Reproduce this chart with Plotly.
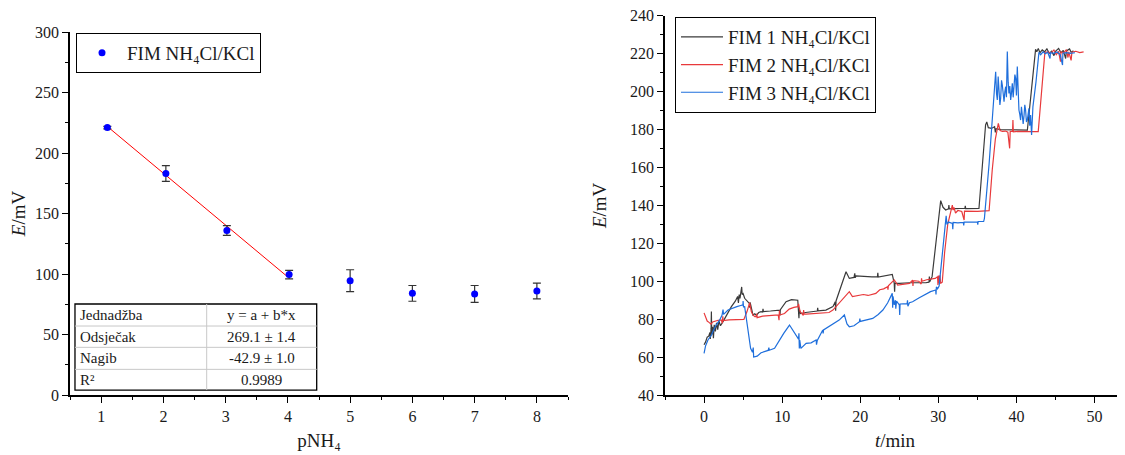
import plotly.graph_objects as go

# ---------------- Left panel data ----------------
pnh4 = [1.1, 2.04, 3.02, 4.02, 5.0, 6.0, 7.0, 8.0]
E_mean = [221.0, 183.0, 136.0, 99.5, 94.5, 84.0, 83.5, 86.0]
E_err = [1.0, 6.5, 4.0, 3.5, 9.0, 6.5, 7.0, 6.5]
fit_intercept = 269.1
fit_slope = -42.9
fit_x = [1.1, 4.0]
fit_y = [fit_intercept + fit_slope * v for v in fit_x]

table_labels = ["Jednadžba", "Odsječak", "Nagib", "R²"]
table_values = ["y = a + b*x", "269.1 ± 1.4", "-42.9 ± 1.0", "0.9989"]

left_xticks = [1, 2, 3, 4, 5, 6, 7, 8]
right_yticks = [40, 60, 80, 100, 120, 140, 160, 180, 200, 220, 240]

# ---------------- Right panel data ----------------
t1 = [0, 0.2, 0.4, 0.6, 0.75, 0.8, 0.9, 0.94, 0.98, 1.1, 1.2, 1.3, 1.45, 1.6, 1.75, 1.9, 2.1, 2.43,
      3.0, 3.5, 4.0, 4.3, 4.4, 4.5, 4.6, 4.77, 4.82, 4.88, 5.0, 5.2, 5.5, 5.8, 5.85, 5.9, 6.26, 6.5,
      6.7, 7.0, 7.3, 7.5, 7.55, 7.6, 8.5, 9.67, 9.72, 9.77, 10.5, 11.2, 12.0, 12.1, 12.15, 12.2,
      12.35, 13.0, 14.0, 14.5, 14.55, 14.6, 15.6, 16.5, 16.8, 16.85, 16.9, 17.5, 18.18, 18.6, 18.9,
      19.2, 19.3, 19.35, 19.46, 20.5, 21.5, 22.2, 22.25, 22.3, 23.0, 24.1, 24.35, 24.4, 24.45, 24.6,
      25.0, 26.3, 27.5, 28.4, 28.8, 28.85, 28.9, 29.2, 29.7, 30.3, 30.6, 30.94, 31.3, 31.35, 31.4,
      32.6, 33.4, 33.45, 33.5, 35.2, 35.6, 36.05, 36.2, 36.4, 36.8, 37.2, 37.3, 37.4, 38.0, 39.0,
      40.0, 41.4, 41.9, 42.45, 42.6, 42.8, 43.0, 43.3, 43.6, 43.9, 44.2, 44.5, 44.8, 45.0, 45.4,
      45.7, 46.0, 46.3, 46.4, 46.8, 47.0, 47.3]
E1 = [66.5, 68, 70.5, 71, 73, 69.5, 75, 84, 72, 76, 70, 77, 73.5, 78, 74.5, 79, 76.5, 78.7,
      83, 86.6, 89.5, 92, 88.5, 93, 91, 94.5, 97, 93, 93.5, 91, 89.5, 88.3, 86, 88.8, 82.2, 82.8,
      82, 83.5, 84, 83.8, 85.5, 84, 84.3, 84.8, 82, 85, 89.2, 90.3, 90, 86, 80.5, 85,
      83, 83.5, 84, 84.3, 86, 84.4, 84.8, 86.6, 89.2, 84.5, 89.6, 97, 105, 101.5, 101.8,
      102, 104.2, 101.8, 102.8, 102.4, 102.3, 102.4, 104.5, 102.2, 102.6, 103.6, 99, 94.5, 99, 98.9,
      98.9, 99.2, 99, 99.2, 99.5, 102.5, 99.8, 102.4, 120, 142.5, 139, 137.6, 138.2, 140.2, 138.2,
      138.2, 138.5, 139.8, 138.3, 138.4, 160, 182.5, 184, 181, 180.6, 181.5, 178.5, 180.5, 180, 179.8,
      179.6, 179.7, 200, 222.3, 221, 222.8, 220.5, 222, 221, 222.6, 220.2, 221.3, 219, 221.2, 222.8,
      220.5, 221.8, 217.5, 221.5, 222.5, 220.8, 221.5]

t2 = [0, 0.2, 0.4, 0.52, 0.7, 0.9, 1.1, 1.4, 1.8, 2.2, 2.35, 2.4, 2.45, 3.2, 4.2, 5.1, 5.5, 5.84,
      6.05, 6.26, 6.5, 6.69, 6.75, 6.8, 7.5, 8.5, 9.5, 9.6, 9.65, 9.7, 10.3, 10.9, 11.5, 12.0, 12.1,
      12.3, 12.5, 12.7, 12.75, 12.8, 13.07, 14.0, 15.0, 16.0, 16.5, 16.9, 17.8, 18.6, 19.0, 19.4,
      20.0, 20.4, 21.0, 22.0, 22.5, 23.0, 23.5, 23.55, 23.6, 24.35, 24.8, 25.5, 26.3, 26.7, 26.75,
      26.8, 27.5, 27.8, 27.85, 27.9, 28.5, 29.2, 29.6, 29.9, 29.95, 30.0, 30.05, 30.1, 30.15, 30.2,
      30.3, 30.5, 30.8, 31.2, 31.6, 31.79, 31.9, 32.0, 32.2, 32.5, 33.0, 33.3, 33.35, 34.0, 34.5,
      35.0, 35.5, 36.5, 36.9, 37.3, 37.68, 37.9, 38.2, 38.6, 38.9, 39.13, 39.2, 39.5, 39.55, 39.6,
      40.2, 41.0, 42.0, 42.79, 43.2, 43.64, 44.0, 44.4, 44.8, 45.1, 45.4, 45.64, 45.7, 46.0, 46.4,
      46.6, 46.7, 47.0, 47.1, 47.6, 48.1, 48.6]
E2 = [83.3, 80.5, 79, 78.7, 78, 77.4, 78.5, 79, 79.4, 79.6, 77.8, 81.5, 79.3, 79.6, 79.7, 79.9, 84, 88.7,
      84, 82.2, 81.3, 81.3, 83, 80.8, 81.6, 81.9, 82.2, 79.5, 84.5, 82.2, 83, 85.3, 86.2, 86.6, 88,
      84, 83, 82, 84.8, 82.7, 82.7, 83, 83.3, 83.5, 84.8, 86.6, 90.5, 94.5, 91.9, 92.2,
      92.3, 93, 92.5, 93.6, 95.5, 96, 97.1, 95.5, 97.6, 100.7, 98, 98.3, 98.9, 100.6, 97.5,
      100.3, 100, 98.5, 101.5, 100, 100.8, 101, 101.5, 102.4, 98, 103, 99, 102.8, 98.5, 103.2,
      98.9, 99.5, 115, 130, 138, 140.2, 137.5, 139, 136, 137.3, 136.8, 132.3, 137, 136.9, 136.6,
      136.8, 137, 137.2, 158.7, 175, 183.3, 179.5, 179, 179.2, 178.6, 170.1, 179, 179, 185, 178.8,
      179, 178.8, 178.9, 178.9, 200, 220.7, 221, 220.3, 222, 219.5, 221.2, 215.8, 221, 220.3, 222.2,
      218, 221, 216.5, 220.8, 221.3, 220.6, 221]

t3 = [0, 0.2, 0.5, 0.94, 1.2, 1.5, 2.0, 2.3, 2.43, 2.5, 3.07, 3.6, 4.2, 4.7, 4.98, 5.0, 5.05, 5.2,
      5.6, 5.96, 6.2, 6.3, 6.35, 6.5, 6.8, 7.3, 7.8, 8.2, 8.3, 8.35, 9.03, 9.6, 10.2, 10.94, 11.5,
      12.1, 12.15, 12.2, 12.25, 12.4, 12.7, 13.07, 13.7, 14.35, 14.4, 14.5, 15.2, 15.25, 15.3, 16.0,
      16.7, 17.3, 17.97, 18.3, 18.6, 19.2, 19.9, 19.95, 20.0, 21.0, 21.6, 22.3, 22.9, 23.5, 24.1,
      24.15, 24.2, 24.35, 24.5, 24.55, 24.65, 25.0, 25.05, 25.1, 25.6, 26.0, 26.05, 26.1, 26.3, 26.7,
      27.5, 28.3, 29.0, 29.66, 29.7, 29.75, 29.9, 30.1, 30.5, 30.94, 31.0, 31.1, 31.3, 31.8, 31.85,
      31.9, 32.5, 33.2, 33.25, 33.3, 34.0, 34.6, 35.0, 35.05, 35.1, 35.8, 35.9, 36.5, 37.1, 37.22,
      37.34, 37.45, 37.55, 37.66, 37.77, 37.88, 37.98, 38.09, 38.19, 38.3, 38.41, 38.52, 38.62, 38.72,
      38.83, 38.94, 39.04, 39.15, 39.26, 39.36, 39.47, 39.58, 39.68, 39.8, 39.9, 40.0, 40.11, 40.22,
      40.32, 40.43, 40.53, 40.64, 40.75, 40.86, 40.96, 41.07, 41.17, 41.28, 41.39, 41.5, 41.6, 41.7,
      41.81, 41.94, 42.11, 42.5, 42.88, 43.1, 43.4, 43.7, 44.0, 44.3, 44.35, 44.8, 45.2, 45.6, 45.9,
      45.95, 46.4, 46.9, 47.5]
E3 = [62, 66, 69, 71.5, 74, 76.5, 79.6, 82, 85, 82.5, 84.8, 85.8, 86.6, 87.2, 87.5, 89.5, 86.5, 86.6,
      75, 64.6, 62.5, 65, 60, 60.2, 60.5, 62.3, 63, 63.5, 65, 63.6, 64.6, 68.5, 72.5, 76.9, 73.5,
      69.5, 72.5, 64.5, 69, 64.6, 66, 67.2, 67.5, 69, 66.5, 68.8, 74.3, 72.5, 74.3, 76,
      77.8, 79.5, 82.2, 77.5, 76, 76.5, 78.7, 80.3, 78.8, 79.8, 80.4, 82.5, 84.8, 88.5, 93.6,
      86, 92, 87.5, 90, 85.5, 89.5, 87.5, 82.2, 88, 88, 88.2, 90, 86.8, 88.7, 89.2,
      91.2, 93.2, 94.5, 95.4, 93, 97, 96, 97.5, 114, 131.4, 134.5, 130, 131.2, 130.5, 127.5,
      131, 130.8, 131, 129.5, 131.2, 131.1, 131.3, 131.3, 129.8, 131.5, 131.5, 133.2, 162, 200.9, 205,
      210.5, 199, 195.6, 208, 202.6, 193, 196.5, 206, 203.5, 198, 194.7, 200, 202.6, 197,
      221.1, 205, 199.1, 203, 195.6, 199, 204.4, 197, 201.7, 209, 207, 198, 213.2, 196,
      190.3, 188, 185, 192, 188.6, 183, 186.8, 193, 190.3, 184, 185, 189, 191.2, 182,
      187.7, 177.1, 192, 205, 220.7, 219.5, 221, 220, 220.8, 217.5, 220.5, 220.2, 220.9, 219.5, 214,
      220.3, 220.6, 220.2, 220.5]

series_names = ["FIM 1 NH₄Cl/KCl", "FIM 2 NH₄Cl/KCl", "FIM 3 NH₄Cl/KCl"]
series_colors = ["#3a3a3a", "#e8393b", "#1f6fdc"]

FONT = "Liberation Serif"
# The page body has an 8px default margin; the figure is sized to end at the window edge.
OFF = 8
W, H = 1117, 447


def px(xp):
    return (xp - OFF) / W


def py(yp):
    return 1 - (yp - OFF) / H


fig = go.Figure()

# Left panel
fig.add_trace(go.Scatter(x=fit_x, y=fit_y, mode="lines", line=dict(color="#ff0000", width=1),
                         showlegend=False, xaxis="x", yaxis="y", hoverinfo="skip"))
fig.add_trace(go.Scatter(x=pnh4, y=E_mean, mode="markers", name="FIM NH₄Cl/KCl",
                         marker=dict(color="#0000ff", size=7),
                         error_y=dict(type="data", array=E_err, color="#333333", thickness=1.2, width=4),
                         xaxis="x", yaxis="y", legend="legend"))

# Right panel
for tt, ee, nm, col in zip([t1, t2, t3], [E1, E2, E3], series_names, series_colors):
    fig.add_trace(go.Scatter(x=tt, y=ee, mode="lines", name=nm, line=dict(color=col, width=1.2),
                             xaxis="x2", yaxis="y2", legend="legend2"))

axis_common = dict(showline=True, linecolor="black", linewidth=1.5, ticks="outside", ticklen=6,
                   tickwidth=1.2, tickcolor="black", showgrid=False, zeroline=False,
                   tickfont=dict(family=FONT, size=16, color="#1a1a1a"), automargin=False,
                   ticklabeloverflow="allow")

# Table shapes (left panel data coordinates)
tx0, tx1, txm = 0.58, 4.463, 2.696
ty_lines = [75.2, 57.0, 39.4, 21.2, 4.1]
shapes = [dict(type="rect", xref="x", yref="y", x0=tx0, x1=tx1, y0=ty_lines[-1], y1=ty_lines[0],
               line=dict(color="black", width=1.3), fillcolor="white", layer="above")]
for yl in ty_lines[1:-1]:
    shapes.append(dict(type="line", xref="x", yref="y", x0=tx0, x1=tx1, y0=yl, y1=yl,
                       line=dict(color="#c8c8c8", width=1), layer="above"))
shapes.append(dict(type="line", xref="x", yref="y", x0=txm, x1=txm, y0=ty_lines[-1], y1=ty_lines[0],
                   line=dict(color="#c8c8c8", width=1), layer="above"))

annotations = []
for i, (lab, val) in enumerate(zip(table_labels, table_values)):
    yc = (ty_lines[i] + ty_lines[i + 1]) / 2
    annotations.append(dict(xref="x", yref="y", x=0.634, y=yc, text=lab, showarrow=False,
                            xanchor="left", yanchor="middle", font=dict(family=FONT, size=15, color="#1a1a1a")))
    annotations.append(dict(xref="x", yref="y", x=(txm + tx1) / 2, y=yc, text=val, showarrow=False,
                            xanchor="center", yanchor="middle", font=dict(family=FONT, size=15, color="#1a1a1a")))

fig.update_layout(
    width=W, height=H, template="none",
    margin=dict(l=0, r=0, t=0, b=0),
    paper_bgcolor="white", plot_bgcolor="white",
    font=dict(family=FONT, size=16, color="#1a1a1a"),
    xaxis=dict(axis_common, domain=[px(70), px(568)], range=[0.5, 8.5], anchor="y",
               tickmode="array", tickvals=left_xticks,
               minor=dict(tickmode="array", tickvals=[0.5, 1.5, 2.5, 3.5, 4.5, 5.5, 6.5, 7.5, 8.5],
                          ticks="outside", ticklen=3, tickcolor="black", tickwidth=1.2),
               title=dict(text="pNH₄", font=dict(family=FONT, size=19), standoff=10)),
    yaxis=dict(axis_common, domain=[py(395), py(32)], range=[0, 300], anchor="x",
               tick0=0, dtick=50,
               minor=dict(dtick=25, ticks="outside", ticklen=3, tickcolor="black", tickwidth=1.2),
               title=dict(text="<i>E</i>/mV", font=dict(family=FONT, size=19), standoff=4)),
    xaxis2=dict(axis_common, domain=[px(665), 1.0], range=[-5, 53.9], anchor="y2",
                tick0=0, dtick=10,
                minor=dict(dtick=5, ticks="outside", ticklen=3, tickcolor="black", tickwidth=1.2),
                title=dict(text="<i>t</i>/min", font=dict(family=FONT, size=19), standoff=10)),
    yaxis2=dict(axis_common, domain=[py(395), py(15.8)], range=[40, 240], anchor="x2",
                tickmode="array", tickvals=right_yticks,
                minor=dict(dtick=10, tick0=40, ticks="outside", ticklen=3, tickcolor="black", tickwidth=1.2),
                title=dict(text="<i>E</i>/mV", font=dict(family=FONT, size=19), standoff=18)),
    legend=dict(x=px(76), y=py(33), xanchor="left", yanchor="top", bordercolor="black", borderwidth=1,
                bgcolor="white", font=dict(family=FONT, size=19, color="#1a1a1a"), itemwidth=40),
    legend2=dict(x=px(675), y=py(17), xanchor="left", yanchor="top", bordercolor="black", borderwidth=1,
                 bgcolor="white", font=dict(family=FONT, size=19, color="#1a1a1a"),
                 tracegroupgap=0, itemwidth=42),
    shapes=shapes,
    annotations=annotations,
    showlegend=True,
)

fig.write_html("out.html")
